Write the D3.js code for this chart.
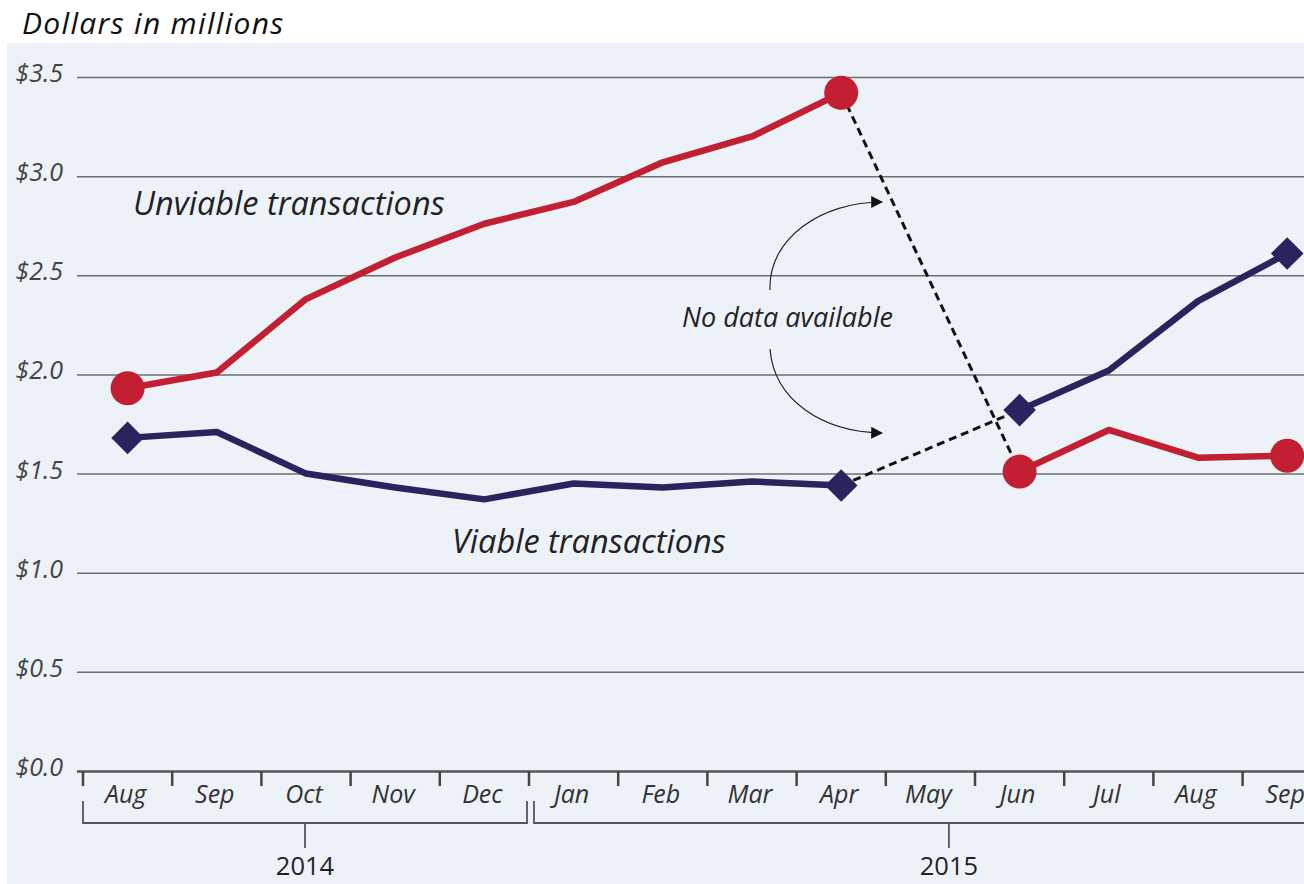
<!DOCTYPE html>
<html>
<head>
<meta charset="utf-8">
<script src="https://cdn.jsdelivr.net/npm/d3@7"></script>
<style>
  body { margin: 0; background: #fff; }
  text { font-family: "Open Sans", sans-serif; }
</style>
</head>
<body>
<script>
(function(){

// data
var months = ["Aug", "Sep", "Oct", "Nov", "Dec", "Jan", "Feb", "Mar", "Apr", "May", "Jun", "Jul", "Aug", "Sep"];
var years = ["2014", "2015"];
var yearFirst = [0, 5],   // first month index of each year
    yearLast = [4, 13];   // last month index of each year
var unviable = [1.93, 2.01, 2.38, 2.59, 2.76, 2.87, 3.07, 3.20, 3.42, null, 1.51, 1.72, 1.58, 1.59];
var viable   = [1.68, 1.71, 1.50, 1.43, 1.37, 1.45, 1.43, 1.46, 1.44, null, 1.82, 2.02, 2.37, 2.61];
var yTicks = [0, 0.5, 1, 1.5, 2, 2.5, 3, 3.5];
var gapFrom = 8, gapTo = 10; // months either side of the missing May

// colours
var red = "#c21f32",
    navy = "#27245e",
    bg = "#edf2f9";

// svg
var width = 1304, height = 884;
var svg = d3.select("body").append("svg")
    .attr("width", width)
    .attr("height", height);

svg.append("rect")
    .attr("x", 7).attr("y", 43)
    .attr("width", width - 7).attr("height", height - 43)
    .attr("fill", bg);

svg.append("text")
    .attr("x", 22).attr("y", 34)
    .style("font-style", "italic")
    .style("font-size", "30px")
    .style("letter-spacing", "1.3px")
    .attr("fill", "#111")
    .text("Dollars in millions");

// scales
var x = d3.scaleBand()
    .domain(d3.range(months.length))
    .range([83, 83 + 89.2 * months.length]);

var y = d3.scaleLinear()
    .domain([0, 3.5])
    .range([771, 77]);

var cx = function(i){ return x(i) + x.bandwidth() / 2; };

// gridlines + y labels
var yAxis = svg.append("g")
    .attr("transform", "translate(77,0)")
    .call(d3.axisLeft(y)
        .tickValues(yTicks)
        .tickSize(-(width - 77))
        .tickPadding(14)
        .tickFormat(function(d){ return "$" + d3.format(".1f")(d); }));

yAxis.select(".domain").remove();
yAxis.selectAll(".tick line")
    .attr("stroke", "#6e6e6e")
    .attr("stroke-width", 1.5);
yAxis.selectAll(".tick line").filter(function(d){ return d === 0; })
    .attr("stroke", "#555")
    .attr("stroke-width", 2.5);
yAxis.selectAll(".tick text")
    .attr("dy", "0.18em")
    .style("font-family", "'Open Sans', sans-serif")
    .style("font-style", "italic")
    .style("font-size", "25px")
    .attr("fill", "#444");

// month ticks and labels
var xg = svg.append("g");
xg.selectAll(".mtick")
    .data(d3.range(months.length))
    .enter()
    .append("line")
    .attr("class", "mtick")
    .attr("x1", function(i){ return x(i); })
    .attr("x2", function(i){ return x(i); })
    .attr("y1", y(0))
    .attr("y2", y(0) + 15)
    .attr("stroke", "#444")
    .attr("stroke-width", 2.5);

xg.selectAll(".mlabel")
    .data(months)
    .enter()
    .append("text")
    .attr("class", "mlabel")
    .attr("x", function(d, i){ return cx(i) - 2; })
    .attr("y", y(0) + 32)
    .attr("text-anchor", "middle")
    .style("font-style", "italic")
    .style("font-size", "25px")
    .attr("fill", "#333")
    .text(function(d){ return d; });

// year brackets
var bTop = y(0) + 30, bBot = y(0) + 52;
years.forEach(function(yr, k){
    var x0 = x(yearFirst[k]) + (k > 0 ? 5 : 0),
        x1 = x(yearLast[k]) + x.step() - (k === 0 ? 2 : 0),
        mid = (x0 + x1) / 2;
    if (k === 1) mid += 16;
    svg.append("path")
        .attr("d", "M" + x0 + "," + bTop + "V" + bBot + "H" + x1 + "V" + bTop)
        .attr("fill", "none")
        .attr("stroke", "#555")
        .attr("stroke-width", 1.8);
    svg.append("line")
        .attr("x1", mid).attr("x2", mid)
        .attr("y1", bBot).attr("y2", bBot + 25)
        .attr("stroke", "#555")
        .attr("stroke-width", 1.8);
    svg.append("text")
        .attr("x", mid)
        .attr("y", bBot + 52)
        .attr("text-anchor", "middle")
        .style("font-size", "25.5px")
        .attr("fill", "#222")
        .text(yr);
});

// dashed connectors across missing data
function connector(series){
    svg.append("line")
        .attr("x1", cx(gapFrom)).attr("y1", y(series[gapFrom]))
        .attr("x2", cx(gapTo)).attr("y2", y(series[gapTo]))
        .attr("stroke", "#111")
        .attr("stroke-width", 3)
        .attr("stroke-dasharray", "8,5");
}
connector(unviable);
connector(viable);

// lines
var line = d3.line()
    .defined(function(d){ return d !== null; })
    .x(function(d, i){ return cx(i); })
    .y(function(d){ return y(d); });

svg.append("path")
    .datum(viable)
    .attr("d", line)
    .attr("fill", "none")
    .attr("stroke", navy)
    .attr("stroke-width", 6.5)
    .attr("stroke-linejoin", "round");

svg.append("path")
    .datum(unviable)
    .attr("d", line)
    .attr("fill", "none")
    .attr("stroke", red)
    .attr("stroke-width", 6.5)
    .attr("stroke-linejoin", "round");

// end markers
var ends = [0, gapFrom, gapTo, months.length - 1];

svg.selectAll(".dot")
    .data(ends)
    .enter()
    .append("circle")
    .attr("class", "dot")
    .attr("cx", function(i){ return cx(i); })
    .attr("cy", function(i){ return y(unviable[i]); })
    .attr("r", 17)
    .attr("fill", red);

var diamond = d3.symbol().type(d3.symbolDiamond2).size(680);
svg.selectAll(".dia")
    .data(ends)
    .enter()
    .append("path")
    .attr("class", "dia")
    .attr("transform", function(i){ return "translate(" + cx(i) + "," + y(viable[i]) + ")"; })
    .attr("d", diamond)
    .attr("fill", navy);

// series labels
svg.append("text")
    .attr("x", 133).attr("y", 215)
    .style("font-style", "italic")
    .style("font-size", "32.5px")
    .attr("fill", "#222")
    .text("Unviable transactions");

svg.append("text")
    .attr("x", 452).attr("y", 553)
    .style("font-style", "italic")
    .style("font-size", "32.5px")
    .attr("fill", "#222")
    .text("Viable transactions");

// annotation
svg.append("defs").append("marker")
    .attr("id", "arrow")
    .attr("viewBox", "0 0 10 10")
    .attr("refX", 9).attr("refY", 5)
    .attr("markerWidth", 12).attr("markerHeight", 12)
    .attr("markerUnits", "userSpaceOnUse")
    .attr("orient", "auto")
    .append("path")
    .attr("d", "M0,0L10,5L0,10Z")
    .attr("fill", "#111");

svg.append("text")
    .attr("x", 682).attr("y", 327)
    .style("font-style", "italic")
    .style("font-size", "27px")
    .attr("fill", "#222")
    .text("No data available");

svg.append("path")
    .attr("d", "M770,290 C768,238 822,202 882,202")
    .attr("fill", "none")
    .attr("stroke", "#222")
    .attr("stroke-width", 1.2)
    .attr("marker-end", "url(#arrow)");

svg.append("path")
    .attr("d", "M770,349 C774,400 822,432 882,433")
    .attr("fill", "none")
    .attr("stroke", "#222")
    .attr("stroke-width", 1.2)
    .attr("marker-end", "url(#arrow)");

})();
</script>
</body>
</html>
